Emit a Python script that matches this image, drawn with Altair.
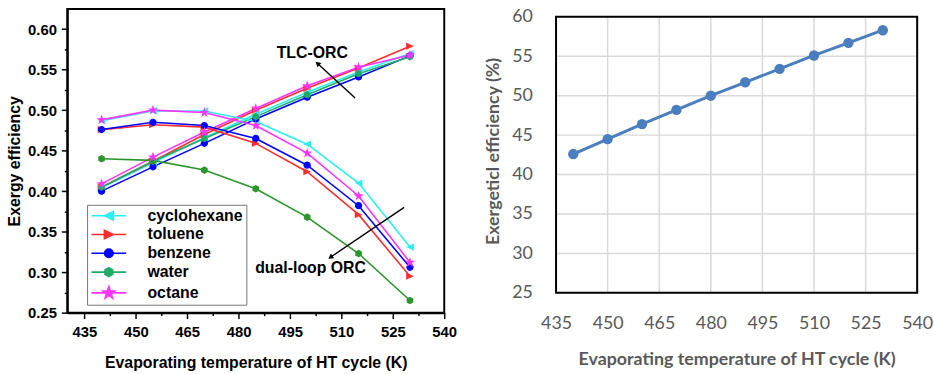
import math
import altair as alt
import pandas as pd

# ---------------- data: left panel (TLC-ORC vs dual-loop ORC) ----------------
temps_left = [440, 455, 470, 485, 500, 515, 530]
fluids = ["cyclohexane", "toluene", "benzene", "water", "octane"]

tlc_cyclohexane = [0.404, 0.435, 0.466, 0.495, 0.522, 0.547, 0.570]
tlc_toluene = [0.405, 0.437, 0.470, 0.500, 0.527, 0.552, 0.579]
tlc_benzene = [0.400, 0.430, 0.459, 0.489, 0.516, 0.541, 0.567]
tlc_water = [0.405, 0.437, 0.465, 0.492, 0.519, 0.545, 0.566]
tlc_octane = [0.409, 0.442, 0.473, 0.502, 0.530, 0.553, 0.568]

dual_cyclohexane = [0.487, 0.499, 0.499, 0.486, 0.458, 0.410, 0.331]
dual_toluene = [0.476, 0.482, 0.479, 0.459, 0.424, 0.371, 0.295]
dual_benzene = [0.476, 0.485, 0.481, 0.465, 0.432, 0.382, 0.306]
dual_water = [0.440, 0.438, 0.426, 0.403, 0.368, 0.323, 0.265]
dual_octane = [0.488, 0.500, 0.497, 0.481, 0.447, 0.394, 0.312]

x_major_left = [435, 450, 465, 480, 495, 510, 525, 540]
x_minor_left = [442.5, 457.5, 472.5, 487.5, 502.5, 517.5, 532.5]
y_major_left = [0.25, 0.30, 0.35, 0.40, 0.45, 0.50, 0.55, 0.60]
y_minor_left = [0.275, 0.325, 0.375, 0.425, 0.475, 0.525, 0.575]

annot_text = ["TLC-ORC", "dual-loop ORC"]
annot_x = [501.5, 501.0]
annot_y = [0.571, 0.305]
arrow_x_from = [514.0, 528.3]
arrow_y_from = [0.515, 0.380]
arrow_x_to = [503.2, 507.0]
arrow_y_to = [0.557, 0.319]

# ---------------- data: right panel ----------------
temps_right = [440, 450, 460, 470, 480, 490, 500, 510, 520, 530]
exergetic_right = [42.6, 44.5, 46.4, 48.2, 50.0, 51.7, 53.4, 55.1, 56.7, 58.3]
x_ticks_right = [435, 450, 465, 480, 495, 510, 525, 540]
y_ticks_right = [25, 30, 35, 40, 45, 50, 55, 60]

# ---------------- styles ----------------
LEFT_W, LEFT_H = 381, 307
RIGHT_W, RIGHT_PLOT_H, RIGHT_TOP_GAP = 365, 279, 8
X_DOM_L = [430, 540]
Y_DOM_L = [0.25, 0.625]
FONT_L = "Liberation Sans"
FONT_R = "Lato"
GRAY_R = "#595959"
BLUE_R = "#4A7EBF"

color_keys = ["cyclohexane", "toluene", "benzene", "water", "octane", "water (dual-loop)"]
color_range = ["#2CF0F0", "#FF2E2E", "#0000FF", "#22AA66", "#FF33FF", "#2B962B"]


def poly_path(n, r, rot=-90.0):
    pts = []
    for k in range(n):
        a = math.radians(rot + 360.0 * k / n)
        pts.append((r * math.cos(a), r * math.sin(a)))
    return "M" + "L".join(f"{x:.3f},{y:.3f}" for x, y in pts) + "Z"


def star_path(ro, ri):
    pts = []
    for k in range(10):
        r = ro if k % 2 == 0 else ri
        a = math.radians(-90 + k * 36)
        pts.append((r * math.cos(a), r * math.sin(a)))
    return "M" + "L".join(f"{x:.3f},{y:.3f}" for x, y in pts) + "Z"


shape_paths = [
    "M-1,0L1,-0.95L1,0.95Z",                                   # triangle left
    "M1,0L-1,-0.95L-1,0.95Z",                                  # triangle right
    "M0.95,0A0.95,0.95 0 1,1 -0.95,0A0.95,0.95 0 1,1 0.95,0Z",  # circle
    poly_path(6, 1.0, -90),                                     # hexagon
    star_path(1.4, 0.55),                                       # star
]
legend_paths = ["M-3.9,0H3.9" + p for p in shape_paths]

# build long tables
tlc_series = [tlc_cyclohexane, tlc_toluene, tlc_benzene, tlc_water, tlc_octane]
dual_series = [dual_cyclohexane, dual_toluene, dual_benzene, dual_water, dual_octane]
rows = []
for f, ys in zip(fluids, tlc_series):
    for t, v in zip(temps_left, ys):
        rows.append({"fluid": f, "cycle": "TLC-ORC", "ckey": f, "T": t, "eff": v})
for f, ys in zip(fluids, dual_series):
    for t, v in zip(temps_left, ys):
        ck = "water (dual-loop)" if f == "water" else f
        rows.append({"fluid": f, "cycle": "dual-loop ORC", "ckey": ck, "T": t, "eff": v})
df_left = pd.DataFrame(rows)
df_tlc = df_left[df_left["cycle"] == "TLC-ORC"]

px_per_k = LEFT_W / (X_DOM_L[1] - X_DOM_L[0])
px_per_e = LEFT_H / (Y_DOM_L[1] - Y_DOM_L[0])
angles = []
for xf, yf, xt, yt in zip(arrow_x_from, arrow_y_from, arrow_x_to, arrow_y_to):
    dx = (xt - xf) * px_per_k
    dy = -(yt - yf) * px_per_e
    angles.append(math.degrees(math.atan2(dx, -dy)) % 360)
df_arrow = pd.DataFrame({"x": arrow_x_from, "y": arrow_y_from,
                         "x2": arrow_x_to, "y2": arrow_y_to, "ang": angles})
df_text = pd.DataFrame({"x": annot_x, "y": annot_y, "label": annot_text})

# ---------------- axes (left) ----------------
x_major_test = "datum.value % 15 == 0"
y_major_test = "abs(datum.value * 20 - round(datum.value * 20)) < 0.001"

axis_x_left = alt.Axis(
    values=sorted(x_major_left + x_minor_left),
    labelExpr=f"({x_major_test}) ? datum.label : ''",
    tickSize={"condition": {"test": x_major_test, "value": 6}, "value": 3},
    tickWidth=1.5, tickColor="black", domainColor="black", domainWidth=2,
    grid=False, labelFlush=False, labelOverlap=False,
    labelFont=FONT_L, labelFontWeight="bold", labelFontSize=15, labelColor="black",
    labelPadding=6,
    titleFont=FONT_L, titleFontWeight="bold", titleFontSize=16, titleColor="black",
    titlePadding=15,
)
axis_y_left = alt.Axis(
    values=sorted(y_major_left + y_minor_left),
    labelExpr=f"({y_major_test}) ? format(datum.value, '.2f') : ''",
    tickSize={"condition": {"test": y_major_test, "value": 6}, "value": 3},
    tickWidth=1.5, tickColor="black", domainColor="black", domainWidth=2,
    grid=False, labelFlush=False, labelOverlap=False,
    labelFont=FONT_L, labelFontWeight="bold", labelFontSize=15, labelColor="black",
    labelPadding=5,
    titleFont=FONT_L, titleFontWeight="bold", titleFontSize=16, titleColor="black",
    titlePadding=5,
)
X_TITLE = "Evaporating temperature of HT cycle (K)"
xs_left = alt.Scale(domain=X_DOM_L, nice=False, zero=False)
ys_left = alt.Scale(domain=Y_DOM_L, nice=False, zero=False)


def ex(field):
    return alt.X(f"{field}:Q", scale=xs_left, axis=axis_x_left, title=X_TITLE)


def ey(field):
    return alt.Y(f"{field}:Q", scale=ys_left, axis=axis_y_left, title="Exergy efficiency")


legend_left = alt.Legend(
    title=None, orient="none", legendX=20, legendY=198,
    fillColor="white", strokeColor="#777777", padding=3,
    labelFont=FONT_L, labelFontWeight="bold", labelFontSize=16, labelColor="black",
    symbolSize=81, symbolOffset=11, labelOffset=31, rowPadding=3,
    symbolStrokeWidth=1.6, symbolOpacity=1,
)

color_enc = alt.Color("ckey:N", scale=alt.Scale(domain=color_keys, range=color_range),
                      legend=None)

lines = alt.Chart(df_left).mark_line(strokeWidth=1.6).encode(
    x=ex("T"), y=ey("eff"), color=color_enc, detail="cycle:N", order="T:Q")

point_layers = []
for f, p in zip(fluids, shape_paths):
    point_layers.append(
        alt.Chart(df_left).transform_filter(alt.datum.fluid == f)
        .mark_point(filled=True, size=60, opacity=1, shape=p)
        .encode(x=ex("T"), y=ey("eff"), color=color_enc)
    )

# invisible layer that only carries the line+marker legend
legend_scale_fill = alt.Scale(domain=fluids, range=color_range[:5])
legend_proxy = alt.Chart(df_tlc).mark_point(filled=True, opacity=0, size=60).encode(
    x=ex("T"), y=ey("eff"),
    fill=alt.Fill("fluid:N", scale=legend_scale_fill, legend=legend_left),
    stroke=alt.Stroke("fluid:N", scale=legend_scale_fill, legend=legend_left),
    shape=alt.Shape("fluid:N", scale=alt.Scale(domain=fluids, range=legend_paths),
                    legend=legend_left),
)

arrows = alt.Chart(df_arrow).mark_rule(color="black", strokeWidth=1.4).encode(
    x=ex("x"), y=ey("y"), x2="x2:Q", y2="y2:Q")
heads = alt.Chart(df_arrow).mark_point(shape="triangle", filled=True, size=35,
                                       color="black", opacity=1).encode(
    x=ex("x2"), y=ey("y2"), angle=alt.Angle("ang:Q", scale=None))
texts = alt.Chart(df_text).mark_text(font=FONT_L, fontWeight="bold", fontSize=16,
                                     color="black").encode(
    x=ex("x"), y=ey("y"), text="label:N")

left = alt.layer(lines, *point_layers, legend_proxy, arrows, heads, texts).properties(
    width=LEFT_W, height=LEFT_H,
    view=alt.ViewBackground(stroke="black", strokeWidth=2))

# ---------------- right panel ----------------
y_lo, y_hi = y_ticks_right[0], y_ticks_right[-1]
x_lo, x_hi = x_ticks_right[0], x_ticks_right[-1]
# blank strip above the frame so that the right plot sits lower than the left one
y_top_dom = y_hi + RIGHT_TOP_GAP * (y_hi - y_lo) / RIGHT_PLOT_H

df_r = pd.DataFrame({"T": temps_right, "eff": exergetic_right})
df_vgrid = pd.DataFrame({"T": x_ticks_right, "y0": [y_lo] * len(x_ticks_right),
                         "y1": [y_hi] * len(x_ticks_right)})
df_hgrid = pd.DataFrame({"eff": y_ticks_right, "x0": [x_lo] * len(y_ticks_right),
                         "x1": [x_hi] * len(y_ticks_right)})
df_frame = pd.DataFrame({"x0": [x_lo], "x1": [x_hi], "y0": [y_lo], "y1": [y_hi]})

axis_x_right = alt.Axis(
    values=x_ticks_right, grid=False, ticks=False, tickSize=0, domain=False,
    labelFlush=False, labelOverlap=False,
    labelFont=FONT_R, labelFontSize=18, labelColor=GRAY_R, labelPadding=22,
    titleFont=FONT_R, titleFontWeight="bold", titleFontSize=18, titleColor=GRAY_R,
    titlePadding=18,
)
axis_y_right = alt.Axis(
    values=y_ticks_right, grid=False, ticks=False, tickSize=0, domain=False,
    labelFlush=False, labelOverlap=False,
    labelFont=FONT_R, labelFontSize=18, labelColor=GRAY_R, labelPadding=24,
    titleFont=FONT_R, titleFontWeight="bold", titleFontSize=18, titleColor=GRAY_R,
    titlePadding=9,
)
xs_r = alt.Scale(domain=[x_lo, x_hi], nice=False, zero=False)
ys_r = alt.Scale(domain=[y_lo, y_top_dom], nice=False, zero=False)


def rx(field):
    return alt.X(f"{field}:Q", scale=xs_r, axis=axis_x_right, title=X_TITLE)


def ry(field):
    return alt.Y(f"{field}:Q", scale=ys_r, axis=axis_y_right,
                 title="Exergeticl efficiency (%)")


vgrid = alt.Chart(df_vgrid).mark_rule(color="#D9D9D9", strokeWidth=1.5).encode(
    x=rx("T"), y=ry("y0"), y2="y1:Q")
hgrid = alt.Chart(df_hgrid).mark_rule(color="#D9D9D9", strokeWidth=1.5).encode(
    y=ry("eff"), x=rx("x0"), x2="x1:Q")
frame = alt.Chart(df_frame).mark_rect(fillOpacity=0, stroke="black", strokeWidth=2).encode(
    x=rx("x0"), x2="x1:Q", y=ry("y0"), y2="y1:Q")
right_line = alt.Chart(df_r).mark_line(color=BLUE_R, strokeWidth=3).encode(
    x=rx("T"), y=ry("eff"))
right_pts = alt.Chart(df_r).mark_circle(color=BLUE_R, size=110, opacity=1).encode(
    x=rx("T"), y=ry("eff"))
right = alt.layer(vgrid, hgrid, frame, right_line, right_pts).properties(
    width=RIGHT_W, height=RIGHT_PLOT_H + RIGHT_TOP_GAP,
    view=alt.ViewBackground(stroke="transparent"))

chart = alt.hconcat(left, right, spacing=26).properties(
    padding={"left": 5, "top": 5, "right": 0, "bottom": 0},
    background="white",
)

chart.save("out.html", embed_options={"renderer": "svg", "actions": False})
